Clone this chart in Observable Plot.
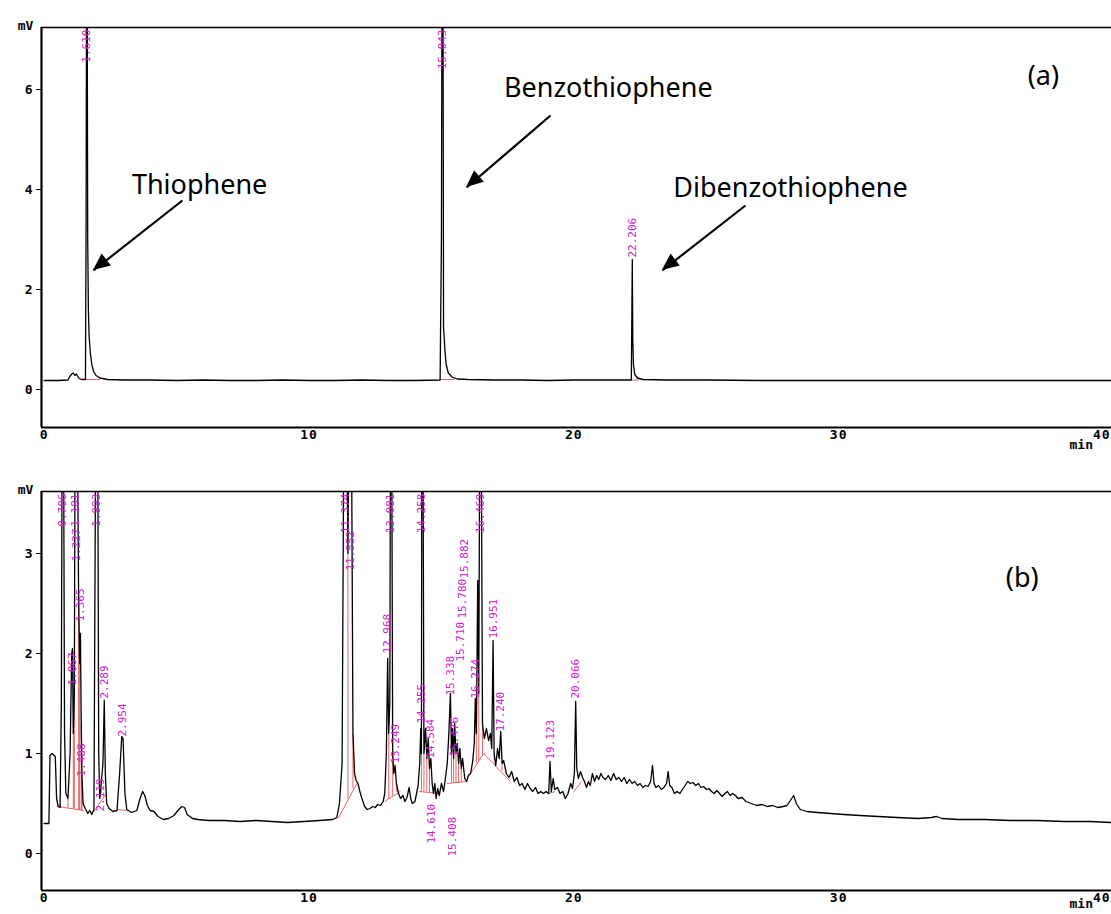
<!DOCTYPE html>
<html>
<head>
<meta charset="utf-8">
<script src="https://cdn.jsdelivr.net/npm/d3@7"></script>
<script src="https://cdn.jsdelivr.net/npm/@observablehq/plot@0.6"></script>
<style>
  html, body { margin: 0; padding: 0; background: #fff; }
  body { width: 1111px; height: 914px; overflow: hidden; position: relative; }
  #panelA { position: absolute; left: 0; top: 0; }
  #panelB { position: absolute; left: 0; top: 460px; }
</style>
</head>
<body>
<div id="panelA"></div>
<div id="panelB"></div>
<script>
// ---------------- data ----------------
const xTicks = [0, 10, 20, 30];
const xTickLast = [40];
const yTicksA = [0, 2, 4, 6];
const yTicksB = [0, 1, 2, 3];

// chromatogram (a): [time min, signal mV]
const traceA = [
  [0,0.18],[0.5,0.18],[0.9,0.19],[0.97,0.26],[1.04,0.31],[1.1,0.33],[1.16,0.28],[1.22,0.31],[1.3,0.23],[1.42,0.2],
  [1.56,0.2],[1.585,3.5],[1.6,8],[1.625,8],[1.645,3.0],[1.67,1.6],[1.7,1.05],[1.75,0.7],[1.8,0.5],[1.87,0.36],
  [1.96,0.28],[2.1,0.23],[2.4,0.2],[3,0.19],[4,0.19],[5,0.18],[6,0.19],[7,0.18],[8,0.18],[9,0.19],[10,0.18],
  [11,0.18],[12,0.19],[13,0.18],[14,0.18],[14.95,0.19],[15.0,3.0],[15.02,8],[15.06,8],[15.08,1.25],[15.1,1.08],
  [15.13,0.8],[15.18,0.5],[15.26,0.33],[15.4,0.25],[15.6,0.21],[16,0.2],[17,0.19],[18,0.19],[19,0.18],[20,0.19],
  [21,0.19],[22,0.19],[22.17,0.19],[22.19,1.5],[22.206,2.6],[22.225,1.0],[22.25,0.5],[22.3,0.3],[22.4,0.23],
  [22.6,0.2],[23.5,0.19],[25,0.19],[27,0.18],[30,0.18],[33,0.18],[36,0.18],[40.3,0.18]
];
const peakLabelsA = ["1.610", "15.043", "22.206"];
const peakTopsA = [9, 9, 2.6];
// integration baselines (a)
const baseA = [[1.56,0.2,2.1,0.2],[14.97,0.2,15.5,0.2],[22.17,0.19,22.45,0.19]];

// chromatogram (b): [time min, signal mV]
const traceB = [
  [0,0.30],[0.18,0.30],[0.22,0.98],[0.30,1.0],[0.42,0.97],[0.47,0.55],[0.53,0.47],[0.6,0.46],[0.65,1.5],[0.68,4.5],
  [0.73,4.5],[0.77,1.2],[0.82,0.6],[0.9,0.55],[0.98,1.0],[1.04,2.0],[1.07,2.05],[1.1,1.2],[1.14,1.6],[1.17,4.5],
  [1.25,4.5],[1.3,2.6],[1.34,1.9],[1.37,2.2],[1.40,1.3],[1.43,0.75],[1.47,0.5],[1.55,0.45],[1.65,0.40],[1.72,0.43],
  [1.8,0.39],[1.88,0.44],[1.95,4.5],[2.02,4.5],[2.06,1.0],[2.1,0.55],[2.13,0.6],[2.17,0.75],[2.22,0.9],[2.27,1.53],
  [2.31,0.8],[2.36,0.5],[2.45,0.45],[2.6,0.42],[2.75,0.43],[2.85,0.8],[2.93,1.17],[2.98,1.15],[3.05,0.6],[3.12,0.44],
  [3.3,0.41],[3.5,0.43],[3.62,0.55],[3.72,0.62],[3.8,0.58],[3.9,0.48],[4.0,0.43],[4.15,0.42],[4.3,0.37],[4.5,0.34],
  [4.7,0.35],[4.9,0.38],[5.05,0.43],[5.2,0.47],[5.3,0.46],[5.4,0.39],[5.6,0.35],[5.8,0.34],[6.2,0.33],[6.8,0.33],
  [7.4,0.32],[8.0,0.33],[8.6,0.32],[9.2,0.31],[9.8,0.32],[10.4,0.33],[10.9,0.34],[11.05,0.36],[11.15,0.5],[11.25,0.9],
  [11.32,4.5],[11.42,4.5],[11.47,3.0],[11.52,4.5],[11.6,4.5],[11.66,1.2],[11.72,0.8],[11.78,0.73],[11.85,0.7],
  [11.92,0.62],[12.0,0.55],[12.1,0.47],[12.2,0.44],[12.3,0.45],[12.4,0.47],[12.5,0.46],[12.6,0.49],[12.7,0.48],
  [12.8,0.52],[12.86,0.6],[12.92,1.0],[12.97,1.95],[13.01,1.2],[13.05,1.5],[13.08,4.5],[13.12,4.5],[13.16,1.0],
  [13.2,0.8],[13.25,0.88],[13.3,0.7],[13.38,0.6],[13.46,0.55],[13.55,0.58],[13.62,0.52],[13.7,0.56],[13.78,0.66],
  [13.84,0.55],[13.9,0.5],[14.0,0.52],[14.06,0.6],[14.12,0.68],[14.18,0.9],[14.22,1.25],[14.245,1.0],[14.26,4.5],
  [14.3,4.5],[14.34,1.0],[14.4,1.25],[14.45,0.95],[14.5,1.15],[14.55,0.85],[14.6,0.95],[14.65,0.7],[14.7,0.6],
  [14.75,0.7],[14.8,0.55],[14.86,0.65],[14.92,0.58],[15.0,0.7],[15.08,0.62],[15.15,0.75],[15.22,0.9],[15.28,1.2],
  [15.34,1.6],[15.38,1.0],[15.42,1.25],[15.46,0.95],[15.5,1.3],[15.55,1.0],[15.6,1.1],[15.65,0.9],[15.7,1.05],
  [15.75,0.85],[15.8,0.95],[15.88,0.75],[15.95,0.72],[16.02,0.78],[16.1,0.8],[16.18,0.92],[16.24,1.1],[16.28,1.55],
  [16.32,1.2],[16.37,2.73],[16.41,1.6],[16.45,4.5],[16.5,4.5],[16.55,1.3],[16.62,1.15],[16.7,1.25],[16.78,1.13],
  [16.85,1.2],[16.9,1.05],[16.95,2.13],[16.99,1.0],[17.05,0.88],[17.12,1.05],[17.18,0.95],[17.24,1.22],[17.29,0.9],
  [17.35,0.93],[17.45,0.8],[17.55,0.76],[17.65,0.82],[17.75,0.72],[17.85,0.76],[17.95,0.68],[18.05,0.7],[18.15,0.64],
  [18.25,0.7],[18.35,0.65],[18.45,0.62],[18.55,0.66],[18.65,0.6],[18.75,0.62],[18.85,0.6],[18.95,0.62],[19.05,0.6],
  [19.1,0.92],[19.15,0.62],[19.22,0.75],[19.28,0.64],[19.38,0.66],[19.48,0.6],[19.58,0.62],[19.68,0.55],[19.78,0.6],
  [19.88,0.7],[19.95,0.65],[20.02,0.8],[20.07,1.52],[20.11,0.85],[20.17,0.75],[20.25,0.82],[20.33,0.76],[20.4,0.72],
  [20.48,0.66],[20.55,0.72],[20.62,0.68],[20.7,0.8],[20.78,0.72],[20.86,0.78],[20.94,0.74],[21.02,0.8],[21.1,0.76],
  [21.2,0.74],[21.3,0.78],[21.4,0.73],[21.5,0.8],[21.6,0.74],[21.7,0.76],[21.8,0.72],[21.9,0.76],[22.0,0.7],
  [22.1,0.74],[22.2,0.7],[22.3,0.72],[22.4,0.68],[22.5,0.7],[22.6,0.66],[22.7,0.68],[22.8,0.67],[22.9,0.72],
  [22.97,0.88],[23.03,0.7],[23.1,0.66],[23.2,0.68],[23.3,0.64],[23.4,0.66],[23.5,0.7],[23.56,0.82],[23.62,0.68],
  [23.7,0.66],[23.8,0.6],[23.9,0.62],[24.0,0.6],[24.1,0.64],[24.2,0.68],[24.3,0.72],[24.4,0.7],[24.5,0.71],
  [24.6,0.68],[24.7,0.7],[24.8,0.66],[24.9,0.67],[25.0,0.64],[25.1,0.65],[25.2,0.62],[25.3,0.6],[25.4,0.63],
  [25.5,0.6],[25.6,0.57],[25.7,0.6],[25.8,0.62],[25.9,0.58],[26.0,0.6],[26.1,0.58],[26.2,0.55],[26.35,0.56],
  [26.5,0.52],[26.7,0.5],[26.9,0.48],[27.1,0.49],[27.3,0.47],[27.5,0.48],[27.7,0.46],[27.9,0.47],[28.05,0.48],
  [28.2,0.54],[28.3,0.58],[28.4,0.5],[28.55,0.44],[28.8,0.42],[29.2,0.41],[29.7,0.4],[30.2,0.39],[30.8,0.38],
  [31.5,0.37],[32.2,0.36],[33.0,0.35],[33.5,0.36],[33.7,0.37],[33.9,0.35],[34.5,0.34],[35.5,0.34],[36.5,0.33],
  [37.5,0.33],[38.5,0.32],[39.5,0.32],[40.3,0.31]
];
const peakLabelsB = ["0.706","1.067","1.181","1.227","1.365","1.408","1.993","2.119","2.289","2.954",
  "11.374","11.552","12.968","13.081","13.249","14.255","14.258","14.584","14.610","15.338","15.408","15.476",
  "15.710","15.780","15.882","16.274","16.469","16.951","17.240","19.123","20.066"];
const peakTopsB = [4.5,1.66,4.5,2.9,2.3,0.75,4.5,0.40,1.53,1.15,
  4.5,2.81,1.98,4.5,0.88,1.28,4.5,0.93,0.08,1.56,-0.05,0.95,
  1.90,2.33,2.73,1.53,4.5,2.13,1.2,0.92,1.53];
// integration baselines (b): [t1, mV1, t2, mV2]
const baseB = [[0.5,0.47,1.5,0.43],[1.88,0.42,2.35,0.6],[2.75,0.44,3.1,0.43],[11.1,0.35,11.85,0.72],
  [12.85,0.52,13.45,0.62],[14.15,0.62,14.95,0.6],[15.2,0.7,15.95,0.72],[16.05,0.78,16.6,1.0],
  [16.6,1.0,17.6,0.72],[19.05,0.6,19.3,0.62],[20.0,0.62,20.3,0.72]];
// drop lines (b): [t, mV low, mV high]
const dropsB = [[0.9,0.46,0.55],[1.1,0.45,1.2],[1.14,0.45,1.6],[1.3,0.44,2.6],[1.34,0.44,1.9],[1.4,0.43,1.3],
  [1.43,0.43,0.75],[11.47,0.55,3.0],[11.66,0.65,1.2],[13.01,0.55,1.2],[13.16,0.58,1.0],[13.3,0.62,0.7],
  [14.245,0.62,1.0],[14.34,0.62,1.0],[14.45,0.62,0.95],[14.55,0.61,0.85],[15.38,0.71,1.0],[15.46,0.71,0.95],
  [15.55,0.71,1.0],[15.65,0.71,0.9],[15.75,0.72,0.85],[16.32,0.9,1.2],[16.41,0.93,1.6],[16.55,0.98,1.3],
  [16.99,0.93,1.0],[17.29,0.83,0.9]];

const compounds = ["Thiophene", "Benzothiophene", "Dibenzothiophene"];

// ---------------- drawing ----------------
const xDomain = [-0.1, 40.3];
const magenta = "#cc22cc";
const axisFont = {fontFamily: "'DejaVu Sans Mono', monospace", fontSize: "13px", fontWeight: "bold", background: "white"};

function panel({trace, yDomain, yTicks, height, mt, mb, labels, tops, bases, drops, minDy, extra}) {
  const ymax = yDomain[1];
  const rows = labels.map((s, i) => ({t: +s, s, h: tops[i]}));
  const textOpts = {x: "t", text: "s", rotate: -90, fill: magenta,
    fontFamily: "'DejaVu Sans Mono', monospace", fontSize: 11, fontWeight: "normal"};
  const chart = Plot.plot({
    width: 1111, height,
    marginLeft: 41, marginRight: 0, marginTop: mt, marginBottom: mb,
    x: {domain: xDomain},
    y: {domain: yDomain},
    style: axisFont,
    marks: [
      Plot.link(bases, {x1: d => d[0], y1: d => d[1], x2: d => d[2], y2: d => d[3], stroke: "#e03030", strokeWidth: 1, strokeOpacity: 0.75}),
      Plot.link(drops || [], {x1: d => d[0], y1: d => d[1], x2: d => d[0], y2: d => d[2], stroke: "#e03030", strokeWidth: 1, strokeOpacity: 0.75}),
      Plot.line(trace, {x: d => d[0], y: d => d[1], stroke: "black", strokeWidth: 1.3, clip: true}),
      Plot.text(rows.filter(d => d.h <= ymax), {...textOpts, y: "h", textAnchor: "start", dy: -2}),
      Plot.text(rows.filter(d => d.h > ymax), {...textOpts, y: () => ymax, textAnchor: "end", dy: 2}),
      Plot.ruleY([yDomain[0]], {stroke: "black", strokeWidth: 2}),
      Plot.ruleY([ymax], {stroke: "black", strokeWidth: 1.6}),
      Plot.ruleX([xDomain[0]], {stroke: "black", strokeWidth: 2.2}),
      Plot.axisX({ticks: xTicks, tickSize: 0, tickPadding: 2, tickFormat: d => String(d), label: null}),
      Plot.axisX({ticks: xTickLast, tickSize: 0, tickPadding: 2, tickFormat: d => String(d), label: null, textAnchor: "end", dx: 7}),
      Plot.axisY({ticks: yTicks, tickSize: 5, tickPadding: 3, tickFormat: d => String(d), label: null}),
      Plot.text(["mV"], {frameAnchor: "top-left", dx: -16, dy: -7, textAnchor: "middle"}),
      Plot.text(["min"], {frameAnchor: "bottom-right", dx: -42, dy: minDy, textAnchor: "start"}),
      ...extra
    ]
  });
  d3.select(chart).selectAll('g[aria-label$="tick label"] text').style("letter-spacing", "1px");
  return chart;
}

function addHeads(chart, arrows) {
  const sx = chart.scale("x"), sy = chart.scale("y");
  const g = d3.select(chart).append("g").attr("aria-label", "arrowheads");
  for (const a of arrows) {
    const x1 = sx.apply(a.x1), y1 = sy.apply(a.y1), x2 = sx.apply(a.x2), y2 = sy.apply(a.y2);
    const dx = x2 - x1, dy = y2 - y1, L = Math.hypot(dx, dy), ux = dx / L, uy = dy / L;
    const len = 17, hw = 7.5;
    const bx = x2 - ux * len, by = y2 - uy * len;
    g.append("path")
      .attr("d", `M${x2},${y2}L${bx - uy * hw},${by + ux * hw}L${bx + uy * hw},${by - ux * hw}Z`)
      .attr("fill", "black");
  }
}

const annFont = {fontFamily: "'Noto Sans', sans-serif", fontSize: 27, fontWeight: "normal", fill: "black"};
const arrowsA = [
  {x1: 5.22, y1: 3.78, x2: 1.86, y2: 2.38},
  {x1: 19.12, y1: 5.48, x2: 15.95, y2: 4.04},
  {x1: 26.48, y1: 3.68, x2: 23.34, y2: 2.38}
];
const namePos = [{x: 5.87, y: 4.08}, {x: 21.3, y: 6.02}, {x: 28.18, y: 4.02}];

const chartA = panel({
  trace: traceA, yDomain: [-0.76, 7.24], yTicks: yTicksA, height: 460, mt: 27, mb: 33,
  labels: peakLabelsA, tops: peakTopsA, bases: baseA, drops: [], minDy: 21,
  extra: [
    Plot.text(compounds, {x: (d, i) => namePos[i].x, y: (d, i) => namePos[i].y, text: d => d, ...annFont}),
    Plot.text(["(a)"], {x: 37.73, y: 6.26, ...annFont}),
    Plot.link(arrowsA, {x1: "x1", y1: "y1", x2: "x2", y2: "y2", stroke: "black", strokeWidth: 2.2})
  ]
});
addHeads(chartA, arrowsA);
document.getElementById("panelA").append(chartA);

const chartB = panel({
  trace: traceB, yDomain: [-0.37, 3.62], yTicks: yTicksB, height: 454, mt: 31, mb: 24,
  labels: peakLabelsB, tops: peakTopsB, bases: baseB, drops: dropsB, minDy: 17,
  extra: [
    Plot.text(["(b)"], {x: 36.93, y: 2.75, ...annFont})
  ]
});
document.getElementById("panelB").append(chartB);
</script>
</body>
</html>
